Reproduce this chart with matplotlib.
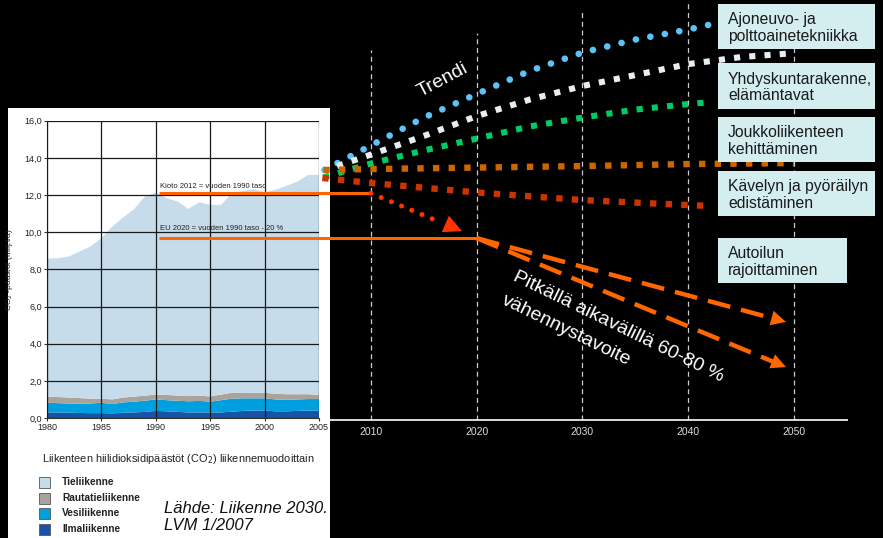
import matplotlib.pyplot as plt
from matplotlib.patches import Rectangle

plt.rcParams['font.family'] = ['Liberation Sans', 'DejaVu Sans']
NARROW = ['Liberation Sans Narrow', 'Liberation Sans', 'DejaVu Sans']

W, H = 883, 538

# Liikenteen CO2-päästöt 1980-2005 (milj. t/a)
years = list(range(1980, 2006))
tieliikenne = [7.41, 7.47, 7.59, 7.89, 8.19, 8.64, 9.30, 9.69, 10.09, 10.72,
               10.87, 10.59, 10.44, 10.07, 10.41, 10.31, 10.21, 10.74, 10.86, 10.95,
               10.79, 10.98, 11.21, 11.44, 11.80, 11.84]
rautatieliikenne = [0.34, 0.33, 0.32, 0.30, 0.26, 0.22, 0.25, 0.26, 0.27, 0.27,
                    0.26, 0.28, 0.28, 0.28, 0.28, 0.28, 0.30, 0.32, 0.30, 0.30,
                    0.30, 0.30, 0.30, 0.28, 0.26, 0.22]
vesiliikenne = [0.52, 0.50, 0.50, 0.50, 0.52, 0.56, 0.50, 0.56, 0.58, 0.60,
                0.62, 0.60, 0.60, 0.60, 0.62, 0.58, 0.66, 0.70, 0.68, 0.66,
                0.66, 0.64, 0.62, 0.62, 0.62, 0.62]
ilmaliikenne = [0.30, 0.30, 0.28, 0.27, 0.26, 0.26, 0.25, 0.28, 0.30, 0.33,
                0.38, 0.36, 0.33, 0.30, 0.30, 0.30, 0.30, 0.34, 0.38, 0.40,
                0.40, 0.36, 0.36, 0.38, 0.40, 0.40]
legend_names = ['Tieliikenne', 'Rautatieliikenne', 'Vesiliikenne', 'Ilmaliikenne']
legend_colors = ['#C6DCEA', '#A9A39C', '#00A0E0', '#1854A6']

kioto_taso = 12.1
eu2020_taso = 9.68

# kehityskäyrät (trendi ja toimenpiteet)
tekniikka_x = [2005.6, 2010, 2015, 2020, 2025, 2030, 2035, 2040, 2042.3]
tekniikka_y = [13.35, 14.67, 16.17, 17.44, 18.68, 19.67, 20.37, 20.91, 21.21]
yhdyskunta_x = [2006.8, 2010, 2015, 2020, 2025, 2030, 2035, 2040, 2045, 2050]
yhdyskunta_y = [13.56, 14.18, 15.18, 16.25, 17.14, 17.87, 18.46, 19.05, 19.43, 19.64]
joukko_x = [2005.5, 2010, 2015, 2020, 2025, 2030, 2035, 2040, 2042.3]
joukko_y = [12.95, 13.70, 14.40, 15.04, 15.69, 16.17, 16.60, 16.90, 17.01]
kavely_x = [2005.5, 2010, 2020, 2030, 2040, 2050]
kavely_y = [13.35, 13.40, 13.48, 13.56, 13.67, 13.72]
autoilu_x = [2005.4, 2010, 2020, 2030, 2040, 2042.3]
autoilu_y = [12.92, 12.65, 12.14, 11.73, 11.46, 11.41]

kioto_polku_x = [2010, 2016.3]
kioto_polku_y = [12.1, 10.60]
kioto_karki = (2018.6, 10.06)
tavoite_x = 2049.25
tavoite_y = [5.17, 2.74]

vuosikymmenet = [2010, 2020, 2030, 2040, 2050]
pystyviiva_ylaraja = [19.81, 20.72, 21.85, 22.5, 22.5]

boxes = [
    ('Ajoneuvo- ja\npolttoainetekniikka', 718, 4, 157, 45),
    ('Yhdyskuntarakenne,\nelämäntavat', 718, 63, 157, 46),
    ('Joukkoliikenteen\nkehittäminen', 718, 117, 157, 45),
    ('Kävelyn ja pyöräilyn\nedistäminen', 718, 171, 157, 45),
    ('Autoilun\nrajoittaminen', 718, 238, 129, 45),
]


def fx(x):
    return x / W


def fy(y):
    return 1 - y / H


fig = plt.figure(figsize=(W / 100, H / 100), dpi=100, facecolor='black')

# white panel with the historical chart
fig.patches.append(Rectangle((fx(8), 0), fx(330) - fx(8), 1 - 108 / H,
                             transform=fig.transFigure, facecolor='white',
                             edgecolor='none', zorder=1))

ax_in = fig.add_axes([fx(47), fy(418), fx(319) - fx(47), (418 - 120.7) / H], zorder=2)
ax_in.stackplot(years, ilmaliikenne, vesiliikenne, rautatieliikenne, tieliikenne,
                colors=legend_colors[::-1], lw=0)
ax_in.set_xlim(1980, 2005)
ax_in.set_ylim(0, 16)
ax_in.set_xticks(range(1980, 2006, 5))
ax_in.set_yticks(range(0, 17, 2))
ax_in.set_yticklabels([f'{v},0' for v in range(0, 17, 2)])
ax_in.set_axisbelow(False)
ax_in.grid(color='#1a1a1a', lw=0.9)
for s in ['top', 'right']:
    ax_in.spines[s].set_visible(False)
for s in ['left', 'bottom']:
    ax_in.spines[s].set_color('#333333')
ax_in.tick_params(length=2, pad=1.5, colors='#333333', labelcolor='#222222')
for lab in ax_in.get_xticklabels() + ax_in.get_yticklabels():
    lab.set_fontsize(6.5)
    lab.set_family(NARROW)
ax_in.set_ylabel('CO$_2$ -päästöt (milj.t/a)', fontsize=6, family=NARROW, color='#222222')
ax_in.yaxis.set_label_coords(-0.118, 0.5)
ax_in.text(1990.4, 12.36, 'Kioto 2012 = vuoden 1990 taso', fontsize=5.5,
           family=NARROW, color='#222222', va='baseline')
ax_in.text(1990.4, 10.12, 'EU 2020 = vuoden 1990 taso - 20 %', fontsize=5.5,
           family=NARROW, color='#222222', va='baseline')

fig.text(fx(42), fy(459), 'Liikenteen hiilidioksidipäästöt (CO$_2$) liikennemuodoittain',
         fontsize=7.9, family=NARROW, color='#222222', va='center')
for i, (name, col) in enumerate(zip(legend_names, legend_colors)):
    yc = [482, 498, 513, 529][i]
    fig.patches.append(Rectangle((fx(39), fy(yc + 5.5)), fx(11), 11 / H,
                                 transform=fig.transFigure, facecolor=col,
                                 edgecolor='#555555', lw=0.6, zorder=2))
    fig.text(fx(62), fy(yc), name, fontsize=7.3, family=NARROW, color='#222222',
             va='center', fontweight='bold')
fig.text(fx(164), fy(517), 'Lähde: Liikenne 2030.\nLVM 1/2007', fontsize=12,
         style='italic', color='#111111', va='center', linespacing=1.15)

# main projection axes
ax = fig.add_axes([0, 0, 1, 1], zorder=3)
ax.patch.set_alpha(0)
ax.set_xlim(1974.92, 2058.42)
ax.set_ylim(-6.46, 22.50)
ax.axis('off')

ax.vlines(vuosikymmenet, -0.11, pystyviiva_ylaraja, colors='#CCCCCC',
          linestyles=(0, (4, 3)), lw=0.9)
ax.hlines(-0.11, 2006.1, 2055.1, color='white', lw=1.2)
for yr in vuosikymmenet:
    ax.text(yr, -0.75, str(yr), color='#DDDDDD', fontsize=7.5, ha='center', va='center')

ax.plot(tekniikka_x, tekniikka_y, color='#5BC3F5', lw=4.8,
        linestyle=(0, (0.01, 2.2)), dash_capstyle='round')
ax.plot(yhdyskunta_x, yhdyskunta_y, color='#E6EDF3', lw=4.4,
        linestyle=(0, (1, 1.5)), dash_capstyle='butt')
ax.plot(joukko_x, joukko_y, color='#00CC66', lw=4.4,
        linestyle=(0, (1, 1.5)), dash_capstyle='butt')
ax.plot(autoilu_x, autoilu_y, color='#CC3300', lw=4.6,
        linestyle=(0, (1, 1.45)), dash_capstyle='butt')
ax.plot(kavely_x, kavely_y, color='#CC6600', lw=4.6,
        linestyle=(0, (1, 1.45)), dash_capstyle='butt')

# Kioto and EU levels
ax.hlines(kioto_taso, 1990, 2010, color='#FF6600', lw=2.2)
ax.hlines(eu2020_taso, 1990, 2020, color='#FF6600', lw=2.2)
ax.plot(kioto_polku_x, kioto_polku_y, color='#FF3300', lw=3.6,
        linestyle=(0, (0.01, 2.2)), dash_capstyle='round')
ax.annotate('', xy=kioto_karki, xytext=(2016.9, 10.48),
            arrowprops=dict(arrowstyle='-|>,head_length=1.3,head_width=0.65',
                            color='#FF3300', lw=0, mutation_scale=10,
                            shrinkA=0, shrinkB=0))

for ty in tavoite_y:
    frac = 0.96
    ex = 2020 + (tavoite_x - 2020) * frac
    ey = eu2020_taso + (ty - eu2020_taso) * frac
    ax.plot([2020, ex], [eu2020_taso, ey], color='#FF6600', lw=3.2,
            linestyle=(0, (5.2, 2.5)), dash_capstyle='butt')
    ax.annotate('', xy=(tavoite_x, ty), xytext=(ex, ey),
                arrowprops=dict(arrowstyle='-|>,head_length=1.2,head_width=0.6',
                                color='#FF6600', lw=0, mutation_scale=9,
                                shrinkA=0, shrinkB=0))

ax.text(2016.8, 18.2, 'Trendi', color='white', fontsize=14, rotation=28,
        ha='center', va='center', rotation_mode='anchor')
ax.text(2033.36, 4.90, 'Pitkällä aikavälillä 60-80 %', color='white', fontsize=14,
        rotation=-26, ha='center', va='center', rotation_mode='anchor')
ax.text(2028.44, 4.70, 'vähennystavoite', color='white', fontsize=14,
        rotation=-26, ha='center', va='center', rotation_mode='anchor')

for label, bx, by, bw, bh in boxes:
    fig.patches.append(Rectangle((fx(bx), fy(by + bh)), fx(bw), bh / H,
                                 transform=fig.transFigure, facecolor='#D4EEF0',
                                 edgecolor='none', zorder=4))
    fig.text(fx(bx + 10), fy(by + bh / 2 + 1.5), label, fontsize=11.3, color='#1a1a1a',
             va='center', ha='left', linespacing=1.15, zorder=5)

plt.savefig('out.png', dpi=100, facecolor='black')
